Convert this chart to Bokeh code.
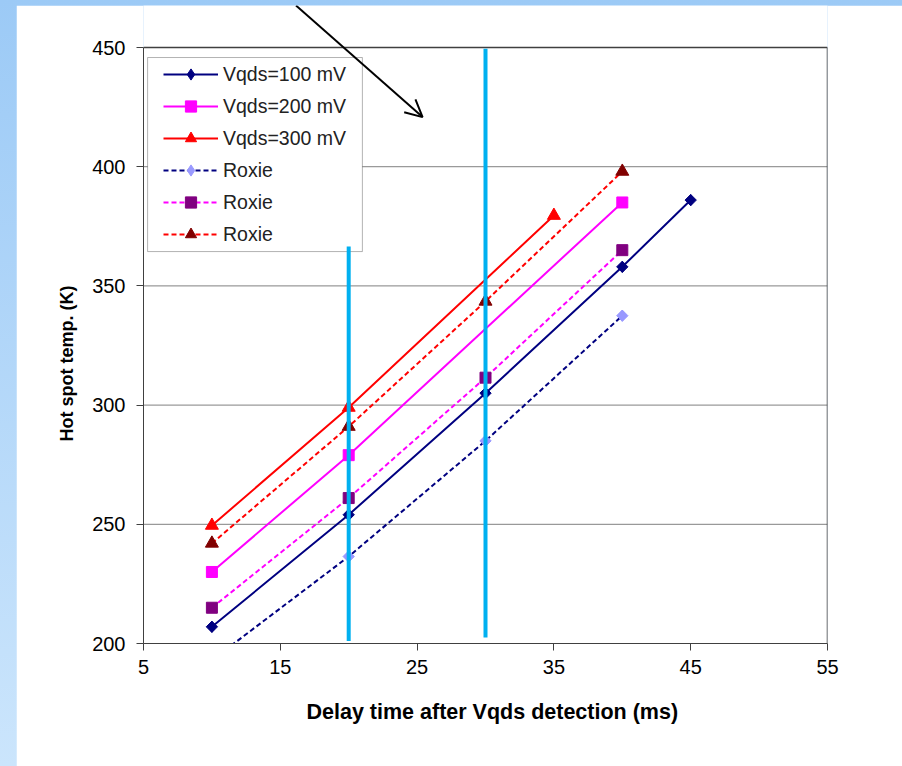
import math
from bokeh.plotting import figure
from bokeh.models import (Range1d, Legend, LegendItem, Arrow, OpenHead, FixedTicker,
                          ColumnDataSource, BoxAnnotation, Title)
from bokeh.layouts import column
from bokeh.embed import file_html
from bokeh.resources import INLINE

# ---- data ----
x_v100 = [10, 20, 30, 40, 45]
y_v100 = [207, 254, 305, 358, 386]
x_v200 = [10, 20, 40]
y_v200 = [230, 279, 385]
x_v300 = [10, 20, 35]
y_v300 = [249.5, 299, 379.5]
x_roxie = [10, 20, 30, 40]
y_roxie100 = [193, 236.5, 285, 337.5]
y_roxie200 = [215, 261, 311.5, 365]
y_roxie300 = [242, 291, 343.5, 398]
x_ticks = [5, 15, 25, 35, 45, 55]
y_ticks = [200, 250, 300, 350, 400, 450]
marker_x = [20, 30]
marker_y_top = [366.5, 449.5]
marker_y_bottom = [201, 202.5]
arrow_start = (16.15, 467.6)
arrow_end = (25.4, 420.8)
legend_box = dict(left=5.3, right=21.0, top=445.8, bottom=364.4)

FONT = "Liberation Sans"
X0, X1 = x_ticks[0], x_ticks[-1]
Y0, Y1 = y_ticks[0], y_ticks[-1]

# frame extends above 450 so the pointer arrow can start at the top of the page
p = figure(width=886, height=761, x_range=Range1d(X0, X1), y_range=Range1d(Y0, 467.62),
           output_backend="svg", toolbar_location=None,
           min_border_left=127, min_border_right=75, min_border_top=0, min_border_bottom=123,
           background_fill_color="white", border_fill_color="white",
           outline_line_color=None)

for ax, ticks in ((p.xaxis, x_ticks), (p.yaxis, y_ticks)):
    ax.ticker = FixedTicker(ticks=ticks)
    ax.bounds = (ticks[0], ticks[-1])
    ax.minor_tick_line_color = None
    ax.major_tick_in = 0
    ax.major_tick_out = 7
    ax.axis_line_color = "#404040"
    ax.major_tick_line_color = "#404040"
    ax.major_label_text_font = FONT
    ax.major_label_text_font_size = "20px"
    ax.major_label_text_color = "black"

p.xaxis.major_label_standoff = 9
p.yaxis.major_label_standoff = 11
p.xgrid.visible = False
p.ygrid.visible = False

# horizontal gridlines inside the plot area
grid_vals = y_ticks[1:-1]
p.segment(x0=[X0] * len(grid_vals), x1=[X1] * len(grid_vals), y0=grid_vals, y1=grid_vals,
          line_color="#808080", line_width=1)
# plot-area border (top and right)
p.segment(x0=[X0, X1], x1=[X1, X1], y0=[Y1, Y0], y1=[Y1, Y1], line_color="#404040", line_width=1.5)

# axis titles
p.add_layout(Title(text="Hot spot temp. (K)", align="left", offset=202, vertical_align="middle",
                   text_font=FONT, text_font_size="18px", text_font_style="bold",
                   text_color="black", standoff=24), "left")
p.add_layout(Title(text="Delay time after Vqds detection (ms)", align="left", offset=163,
                   vertical_align="middle",
                   text_font=FONT, text_font_size="21.5px", text_font_style="bold",
                   text_color="black", standoff=44), "below")

items = []
def series(xs, ys, color, dash, marker, mcolor, msize, label, angle=0.0, legend_marker=None):
    r1 = p.line(xs, ys, line_color=color, line_width=2, line_dash=dash)
    rl = None
    if legend_marker is not None:
        # diamond used for the legend swatch, hidden under the rotated square markers
        rl = p.scatter(xs, ys, marker=legend_marker, size=11,
                       fill_color=mcolor, line_color=mcolor)
    r2 = p.scatter(xs, ys, marker=marker, size=msize, angle=angle,
                   fill_color=mcolor, line_color=mcolor)
    items.append(LegendItem(label=label, renderers=[r1, rl if rl is not None else r2]))

rot = math.pi / 4
series(x_v100, y_v100, "#000080", "solid", "square", "#000080", 8, "Vqds=100 mV", rot, "diamond")
series(x_v200, y_v200, "#ff00ff", "solid", "square", "#ff00ff", 11, "Vqds=200 mV")
series(x_v300, y_v300, "#ff0000", "solid", "triangle", "#ff0000", 13, "Vqds=300 mV")
series(x_roxie, y_roxie100, "#000080", "5 3", "square", "#9999ff", 8, "Roxie", rot, "diamond")
series(x_roxie, y_roxie200, "#ff00ff", "5 3", "square", "#800080", 11, "Roxie")
series(x_roxie, y_roxie300, "#ff0000", "5 3", "triangle", "#800000", 13, "Roxie")

# legend frame
p.add_layout(BoxAnnotation(fill_color="white", fill_alpha=1, line_color="black", line_width=1,
                           **legend_box))
legend = Legend(items=items, location=(20, 395), border_line_color=None,
                background_fill_alpha=0,
                label_text_font=FONT, label_text_font_size="19.5px", label_text_color="#222222",
                glyph_width=55, glyph_height=28, label_height=28, label_standoff=5,
                padding=0, spacing=4, margin=0)
p.add_layout(legend, "center")

# cyan vertical markers (drawn over the legend, as in the original)
seg_src = ColumnDataSource(dict(x=marker_x, y0=marker_y_bottom, y1=marker_y_top))
p.segment(x0="x", y0="y0", x1="x", y1="y1", source=seg_src, line_color="#00b0f0",
          line_width=4, level="overlay")

p.add_layout(Arrow(end=OpenHead(size=17, line_width=2, line_color="black"),
                   x_start=arrow_start[0], y_start=arrow_start[1],
                   x_end=arrow_end[0], y_end=arrow_end[1],
                   line_color="black", line_width=2))

layout = column(p, styles={"padding-left": "16px", "padding-top": "5px",
                           "background": "linear-gradient(to bottom, #9ccaf6, #cbe5fc)"})

open("out.html", "w").write(file_html(layout, INLINE))
